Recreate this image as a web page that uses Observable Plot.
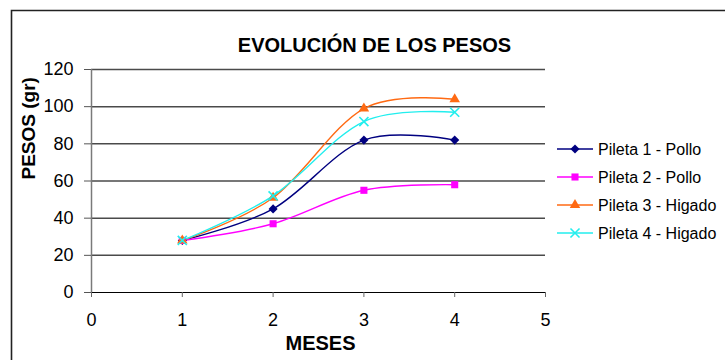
<!DOCTYPE html>
<html>
<head>
<meta charset="utf-8">
<script src="https://cdn.jsdelivr.net/npm/d3@7"></script>
<script src="https://cdn.jsdelivr.net/npm/@observablehq/plot@0.6"></script>
<style>
  html, body { margin: 0; padding: 0; background: #fff; }
</style>
</head>
<body>
<div id="chart"></div>
<script>
const months = [1, 2, 3, 4];
const seriesNames = ["Pileta 1 - Pollo", "Pileta 2 - Pollo", "Pileta 3 - Higado", "Pileta 4 - Higado"];
const pileta1 = [28, 45, 82, 82];
const pileta2 = [28, 37, 55, 58];
const pileta3 = [28, 51, 99, 104];
const pileta4 = [28, 52, 92, 97];
const xTicks = [0, 1, 2, 3, 4, 5];
const yTicks = [0, 20, 40, 60, 80, 100, 120];
const titleText = "EVOLUCIÓN DE LOS PESOS";
const xLabel = "MESES";
const yLabel = "PESOS (gr)";

const colors = ["#000080", "#ff00ff", "#ff6a13", "#22eeee"];
const symbols = ["diamond2", "square", "triangle", "times"];
const d3symbols = [d3.symbolDiamond2, d3.symbolSquare, d3.symbolTriangle, d3.symbolTimes];
const radii = [4.1, 4.0, 3.9, 4.2];

const allSeries = [pileta1, pileta2, pileta3, pileta4];
const data = allSeries.map((vals, i) => months.map((m, j) => ({mes: m, peso: vals[j], serie: seriesNames[i]})));

const lineMarks = data.map((d, i) => Plot.line(d, {
  x: "mes", y: "peso", stroke: colors[i], strokeWidth: 1.4, curve: "cardinal", tension: 0
}));
const dotMarks = data.map((d, i) => {
  const isStroke = symbols[i] === "times";
  return Plot.dot(d, {
    x: "mes", y: "peso", symbol: () => symbols[i], r: radii[i],
    fill: isStroke ? "none" : colors[i],
    stroke: isStroke ? colors[i] : "none",
    strokeWidth: isStroke ? 1.6 : 0
  });
});

const svg = Plot.plot({
  width: 725,
  height: 360,
  marginLeft: 91,
  marginRight: 180,
  marginTop: 69,
  marginBottom: 68,
  x: {domain: [0, 5]},
  y: {domain: [0, 120]},
  style: {fontFamily: "'Liberation Sans', Arial, sans-serif", background: "#fff", color: "#000"},
  marks: [
    Plot.gridY(yTicks.filter(d => d > 0), {stroke: "#4a4a4a", strokeOpacity: 1, strokeWidth: 1.5}),
    Plot.ruleX([0], {stroke: "#7a7a7a", strokeWidth: 1.5}),
    Plot.axisY({ticks: yTicks, tickSize: 7, tickPadding: 11, fontSize: 18, label: null, stroke: "#555", tickFormat: d3.format("d")}),
    Plot.ruleY([0], {stroke: "#000", strokeWidth: 1.2}),
    Plot.axisX({ticks: xTicks, tickSize: 5, tickPadding: 16, fontSize: 18, label: null, stroke: "#666", tickFormat: d3.format("d")}),
    ...lineMarks,
    ...dotMarks,
    Plot.text([titleText], {frameAnchor: "top", dx: 56, dy: -32, fontWeight: "bold", fontSize: 20}),
    Plot.text([xLabel], {frameAnchor: "bottom", dx: 2, dy: 57, fontWeight: "bold", fontSize: 20}),
    Plot.text([yLabel], {frameAnchor: "left", dx: -63, dy: -1.5, rotate: -90, fontWeight: "bold", fontSize: 19})
  ]
});

const s = d3.select(svg);
// chart border
s.append("path").attr("d", "M11.5,360 V10.5 H725").attr("fill", "none").attr("stroke", "#222").attr("stroke-width", 1.6);

// legend
const rows = [149, 177, 205, 233];
const lg = s.append("g").attr("font-family", "'Liberation Sans', Arial, sans-serif").attr("font-size", 16).attr("text-anchor", "start");
seriesNames.forEach((name, i) => {
  const y = rows[i];
  lg.append("line").attr("x1", 557).attr("x2", 593).attr("y1", y).attr("y2", y)
    .attr("stroke", colors[i]).attr("stroke-width", 1.5);
  const isStroke = symbols[i] === "times";
  lg.append("path")
    .attr("transform", `translate(575,${y})`)
    .attr("d", d3.symbol(d3symbols[i], Math.PI * radii[i] * radii[i])())
    .attr("fill", isStroke ? "none" : colors[i])
    .attr("stroke", isStroke ? colors[i] : "none")
    .attr("stroke-width", 1.6);
  lg.append("text").attr("x", 598).attr("y", y).attr("dy", "0.35em").attr("text-anchor", "start").attr("fill", "#000").text(name);
});

document.getElementById("chart").appendChild(svg);
</script>
</body>
</html>
